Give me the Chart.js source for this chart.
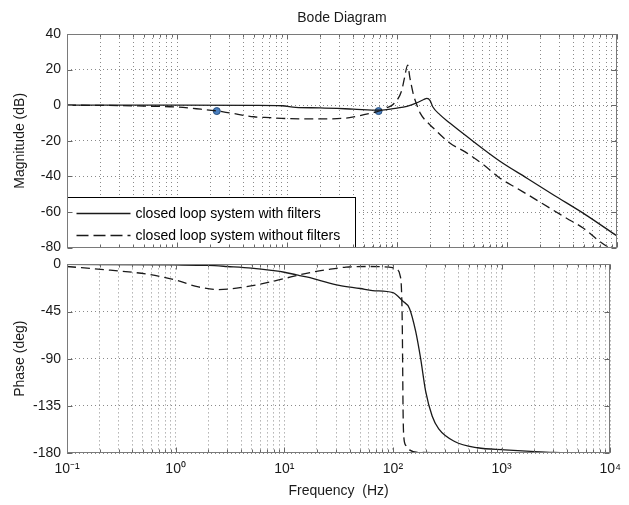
<!DOCTYPE html>
<html><head><meta charset="utf-8">
<script src="https://cdn.jsdelivr.net/npm/chart.js@4/dist/chart.umd.min.js"></script>
<style>
html,body{margin:0;padding:0;background:#fff;}
#wrap{position:relative;width:629px;height:505px;overflow:hidden;background:#fff;}
#c1{position:absolute;left:0;top:0;}
#c2{position:absolute;left:0;top:250px;}
</style></head><body>
<div id="wrap"><canvas id="c1" width="629" height="262"></canvas><canvas id="c2" width="629" height="255"></canvas></div>
<script>
// ---------- DATA ----------
const titleText = 'Bode Diagram';
const seriesNames = ['closed loop system with filters', 'closed loop system without filters'];
const xDecades = [0.1, 1, 10, 100, 1000, 10000];
const xTickLabels = ['10\u207B\u00B9', '10\u2070', '10\u00B9', '10\u00B2', '10\u00B3', '10\u2074'];
const magTicks = [-80, -60, -40, -20, 0, 20, 40];
const phaseTicks = [-180, -135, -90, -45, 0];

// Magnitude, with filters (Hz, dB)
const magWithF = [0.1, 1, 5, 9, 12, 20, 40, 68, 100, 123, 151, 175, 187, 200, 212, 245, 302, 430, 863, 1520, 2630, 5200, 10000];
const magWithV = [0, 0, -0.1, -0.3, -1.2, -1.5, -2.2, -2.8, -1.6, -0.6, 1.3, 3.2, 3.8, 2.6, -1, -5.3, -10, -17.5, -31.5, -41, -50.3, -61.6, -73.5];
// Magnitude, without filters (Hz, dB)
const magWithoutF = [0.1, 0.3, 0.5, 1, 1.5, 2.3, 3, 5, 7, 10, 20, 37, 57, 68, 80, 92, 110, 117, 125, 131, 141, 151, 162, 214, 302, 430, 610, 863, 1225, 1740, 2460, 3480, 4920, 7000, 10000];
const magWithoutV = [0, -0.2, -0.5, -1, -2, -3.2, -4.3, -6.5, -7, -7.5, -7.7, -7, -4.5, -3.4, -1.5, 0.4, 8, 15.4, 22.5, 15.4, 6, 0.4, -4.3, -12.8, -21.2, -26.8, -33.4, -41, -46.6, -52.2, -57.9, -63.5, -69, -76.6, -83];
// Marked points on the magnitude plot
const markF = [2.3, 68];
const markV = [-3.3, -3.3];

// Phase, with filters (Hz, deg)
const phWithF = [0.1, 1, 2, 3, 5, 8, 10, 13, 16, 20, 32, 50, 65, 100, 123, 142, 162, 180, 200, 230, 264, 370, 600, 1070, 1860, 3000, 10000];
const phWithV = [0, -0.5, -1, -2, -3.5, -6, -7.5, -10, -12, -14.5, -20, -23, -25, -27, -35, -42, -64, -90, -121, -145, -157, -169, -175, -177, -178.5, -179.5, -180];
// Phase, without filters (Hz, deg)
const phWithoutF = [0.1, 0.25, 0.57, 1, 1.62, 2.5, 4.3, 7.5, 11.5, 16, 25, 37, 60, 100, 110, 116, 120, 122, 123, 124, 126, 132, 142, 175, 10000];
const phWithoutV = [-2, -5.5, -9.6, -15, -21.5, -24, -21.5, -16.7, -12, -8.5, -5, -2.6, -2, -3, -5, -10, -25, -60, -100, -140, -165, -173, -177, -179.5, -180];

// ---------- STYLE / HELPERS ----------
const FONT = "'Liberation Sans', Arial, Helvetica, sans-serif";
const FS = 14;
Chart.defaults.font.family = FONT;
Chart.defaults.font.size = FS;
Chart.defaults.color = '#1a1a1a';
const GRID = '#8a8a8a';
const LINE = '#1a1a1a';

const pts = (xs, ys) => xs.map((x, i) => ({x: x, y: ys[i]}));
function logTicks() {
  const t = [];
  for (let d = 0; d < xDecades.length - 1; d++) {
    for (let s = 1; s < 10; s++) t.push({value: xDecades[d] * s, major: s === 1});
  }
  t.push({value: xDecades[xDecades.length - 1], major: true});
  return t;
}
function xLabel(v) {
  const i = xDecades.findIndex(d => Math.abs(d - v) / d < 1e-6);
  return i >= 0 ? xTickLabels[i] : '';
}

const framePlugin = {
  id: 'frame',
  afterDraw(chart) {
    const {ctx, chartArea: a, scales} = chart;
    const L = Math.round(a.left) + 0.5, R = Math.round(a.right) - 0.5;
    const T = Math.round(a.top) + 0.5, B = Math.round(a.bottom) - 0.5;
    ctx.save();
    ctx.strokeStyle = '#666';
    ctx.lineWidth = 1;
    ctx.beginPath();
    scales.x.ticks.forEach(t => {
      const px = Math.round(scales.x.getPixelForValue(t.value)) + 0.5;
      const len = t.major ? 5 : 3;
      ctx.moveTo(px, B); ctx.lineTo(px, B - len);
      ctx.moveTo(px, T); ctx.lineTo(px, T + len);
    });
    scales.y.ticks.forEach(t => {
      const py = Math.round(scales.y.getPixelForValue(t.value)) + 0.5;
      ctx.moveTo(L, py); ctx.lineTo(L + 5, py);
      ctx.moveTo(R, py); ctx.lineTo(R - 5, py);
    });
    ctx.stroke();
    ctx.strokeStyle = '#7a7a7a';
    ctx.strokeRect(L, T, R - L, B - T);
    ctx.restore();
  }
};

const boxLegend = {
  id: 'boxLegend',
  afterDatasetsDraw(chart) {
    const {ctx, chartArea: a} = chart;
    const items = chart.data.datasets.filter(d => d.inLegend);
    const x0 = Math.round(a.left) + 0.5, y1 = Math.round(a.bottom) - 0.5;
    const w = 288, h = 50, y0 = y1 - h;
    ctx.save();
    ctx.fillStyle = '#fff';
    ctx.fillRect(x0, y0, w, h);
    ctx.strokeStyle = '#000';
    ctx.lineWidth = 1;
    ctx.strokeRect(x0, y0, w, h);
    ctx.font = FS + 'px ' + FONT;
    ctx.textBaseline = 'middle';
    ctx.fillStyle = '#000';
    items.forEach((d, i) => {
      const y = Math.round(y0 + 15 + i * 22) + 0.5;
      ctx.beginPath();
      ctx.setLineDash(d.borderDash && d.borderDash.length ? [12, 5] : []);
      ctx.strokeStyle = d.borderColor;
      ctx.lineWidth = d.borderWidth;
      ctx.moveTo(x0 + 9, y); ctx.lineTo(x0 + 63, y);
      ctx.stroke();
      ctx.setLineDash([]);
      ctx.fillText(d.label, x0 + 68, y + 1);
    });
    ctx.restore();
  }
};

function xScale(showLabels) {
  return {
    type: 'logarithmic', min: xDecades[0], max: xDecades[xDecades.length - 1],
    afterBuildTicks: s => { s.ticks = logTicks(); },
    ticks: {display: showLabels, autoSkip: false, maxRotation: 0, minRotation: 0, padding: 8,
            callback: v => xLabel(v), color: '#1a1a1a', font: {size: FS}},
    grid: {color: GRID, lineWidth: 1, drawTicks: false},
    border: {display: false, dash: [1, 3]},
    title: {display: showLabels, text: 'Frequency  (Hz)', padding: {top: 0, bottom: 5}, font: {size: FS}, color: '#1a1a1a'},
    afterFit: s => { s.height = showLabels ? 52 : 0; }
  };
}
function yScale(ticksArr, titleStr) {
  return {
    type: 'linear', min: ticksArr[0], max: ticksArr[ticksArr.length - 1],
    afterBuildTicks: s => { s.ticks = ticksArr.map(v => ({value: v})); },
    ticks: {padding: 6, color: '#1a1a1a', font: {size: FS}},
    grid: {color: GRID, lineWidth: 1, drawTicks: false},
    border: {display: false, dash: [1, 3]},
    title: {display: true, text: titleStr, padding: {top: 11.5, bottom: 0}, font: {size: FS}, color: '#1a1a1a'},
    afterFit: s => { s.width = 67; }
  };
}
function lineDs(label, data, dashed) {
  return {label: label, data: data, inLegend: true, borderColor: LINE, borderWidth: 1.3,
          borderDash: dashed ? [9, 5] : [], pointRadius: 0, fill: false,
          cubicInterpolationMode: 'monotone'};
}

new Chart(document.getElementById('c1'), {
  type: 'line',
  data: {datasets: [
    lineDs(seriesNames[0], pts(magWithF, magWithV), false),
    lineDs(seriesNames[1], pts(magWithoutF, magWithoutV), true),
    {label: 'markers', data: pts(markF, markV), showLine: false, pointRadius: 3.5,
     pointBackgroundColor: '#4a7fc0', pointBorderColor: '#27507f', pointBorderWidth: 1, inLegend: false}
  ]},
  options: {
    responsive: false, animation: false,
    layout: {padding: {left: 0, right: 12, top: 0, bottom: 0}},
    plugins: {
      legend: {display: false}, tooltip: {enabled: false},
      title: {display: true, text: titleText, fullSize: false, padding: {top: 9.6, bottom: 7.6},
              font: {size: FS, weight: 'normal'}, color: '#1a1a1a'}
    },
    scales: {x: xScale(false), y: yScale(magTicks, 'Magnitude (dB)')}
  },
  plugins: [boxLegend, framePlugin]
});

new Chart(document.getElementById('c2'), {
  type: 'line',
  data: {datasets: [
    lineDs(seriesNames[0], pts(phWithF, phWithV), false),
    lineDs(seriesNames[1], pts(phWithoutF, phWithoutV), true)
  ]},
  options: {
    responsive: false, animation: false,
    layout: {padding: {left: 0, right: 12, top: 14, bottom: 0}},
    plugins: {legend: {display: false}, tooltip: {enabled: false}},
    scales: {x: xScale(true), y: yScale(phaseTicks, 'Phase (deg)')}
  },
  plugins: [framePlugin]
});
</script>
</body></html>
